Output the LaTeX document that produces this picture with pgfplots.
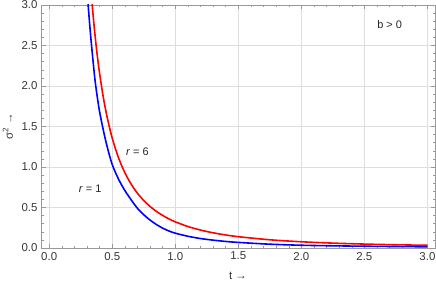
\documentclass[border=0pt]{standalone}
\usepackage{fontspec}
\setmainfont{Liberation Sans}
\usepackage{pgfplots}
\pgfplotsset{compat=1.18}
\definecolor{framegray}{gray}{0.6}
\definecolor{ticktext}{gray}{0.22}
\definecolor{gridgray}{gray}{0.87}
\begin{document}
\begin{tikzpicture}
\begin{axis}[name=ax, scale only axis, width=394bp, height=243bp,
  xmin=-0.065, xmax=3.06, ymin=0, ymax=3,
  xtick={0,0.5,1,1.5,2,2.5,3}, ytick={0,0.5,1,1.5,2,2.5,3},
  minor tick num=4,
  tick align=inside,
  major tick length=4.5bp, minor tick length=2.5bp,
  axis line style={framegray, line width=0.6pt},
  every tick/.style={framegray, line width=0.5pt},
  grid=major, major grid style={gridgray, line width=0.6pt},
  ticklabel style={font=\fontsize{11.5}{13}\selectfont, text=ticktext},
  /pgf/number format/assume math mode=true,
  /pgf/number format/fixed, /pgf/number format/fixed zerofill, /pgf/number format/precision=1,
  xticklabel style={yshift=-0.5bp},
  xlabel={t →}, ylabel={σ\textsuperscript{2} →},
  label style={font=\fontsize{11.5}{13}\selectfont, text=ticktext},
  xlabel style={at={(axis description cs:0.5,-0.115)}, anchor=center},
  ylabel style={at={(axis description cs:-0.084,0.5)}, anchor=center},
]
\addplot[blue, line width=1.6pt, smooth] coordinates {
(0.300,3.25) (0.309,3.0) (0.33,2.60) (0.36,2.12) (0.38,1.88) (0.40,1.68) (0.43,1.45) (0.46,1.25) (0.50,1.03) (0.55,0.85) (0.60,0.71) (0.65,0.595) (0.70,0.49) (0.75,0.41) (0.80,0.345) (0.85,0.29) (0.90,0.245) (0.95,0.21) (1.0,0.183) (1.1,0.145) (1.2,0.117) (1.3,0.097) (1.4,0.081) (1.5,0.069) (1.75,0.047) (2.0,0.034) (2.25,0.027) (2.5,0.022) (2.75,0.018) (3.0,0.015)
};
\addplot[red, line width=1.6pt, smooth] coordinates {
(0.33,3.20) (0.341,3.0) (0.36,2.68) (0.38,2.394) (0.40,2.152) (0.43,1.853) (0.46,1.612) (0.50,1.356) (0.55,1.113) (0.60,0.930) (0.65,0.788) (0.70,0.676) (0.75,0.586) (0.80,0.513) (0.85,0.452) (0.90,0.402) (0.95,0.359) (1.0,0.323) (1.1,0.265) (1.2,0.2215) (1.3,0.1877) (1.4,0.161) (1.5,0.1395) (1.75,0.1014) (2.0,0.0769) (2.25,0.0603) (2.5,0.0485) (2.75,0.0398) (3.0,0.0332)
};
\node[font=\fontsize{11}{13}\selectfont, text=black!85] at (axis cs:0.70,1.185) {\textit{r} = 6};
\node[font=\fontsize{11}{13}\selectfont, text=black!85] at (axis cs:0.325,0.728) {\textit{r} = 1};
\node[font=\fontsize{11}{13}\selectfont, text=black!85] at (axis cs:2.70,2.753) {b > 0};
\end{axis}
\pgfresetboundingbox
\path ([xshift=-41bp,yshift=-34bp]ax.south west) rectangle ([xshift=1bp,yshift=5bp]ax.north east);
\end{tikzpicture}
\end{document}
